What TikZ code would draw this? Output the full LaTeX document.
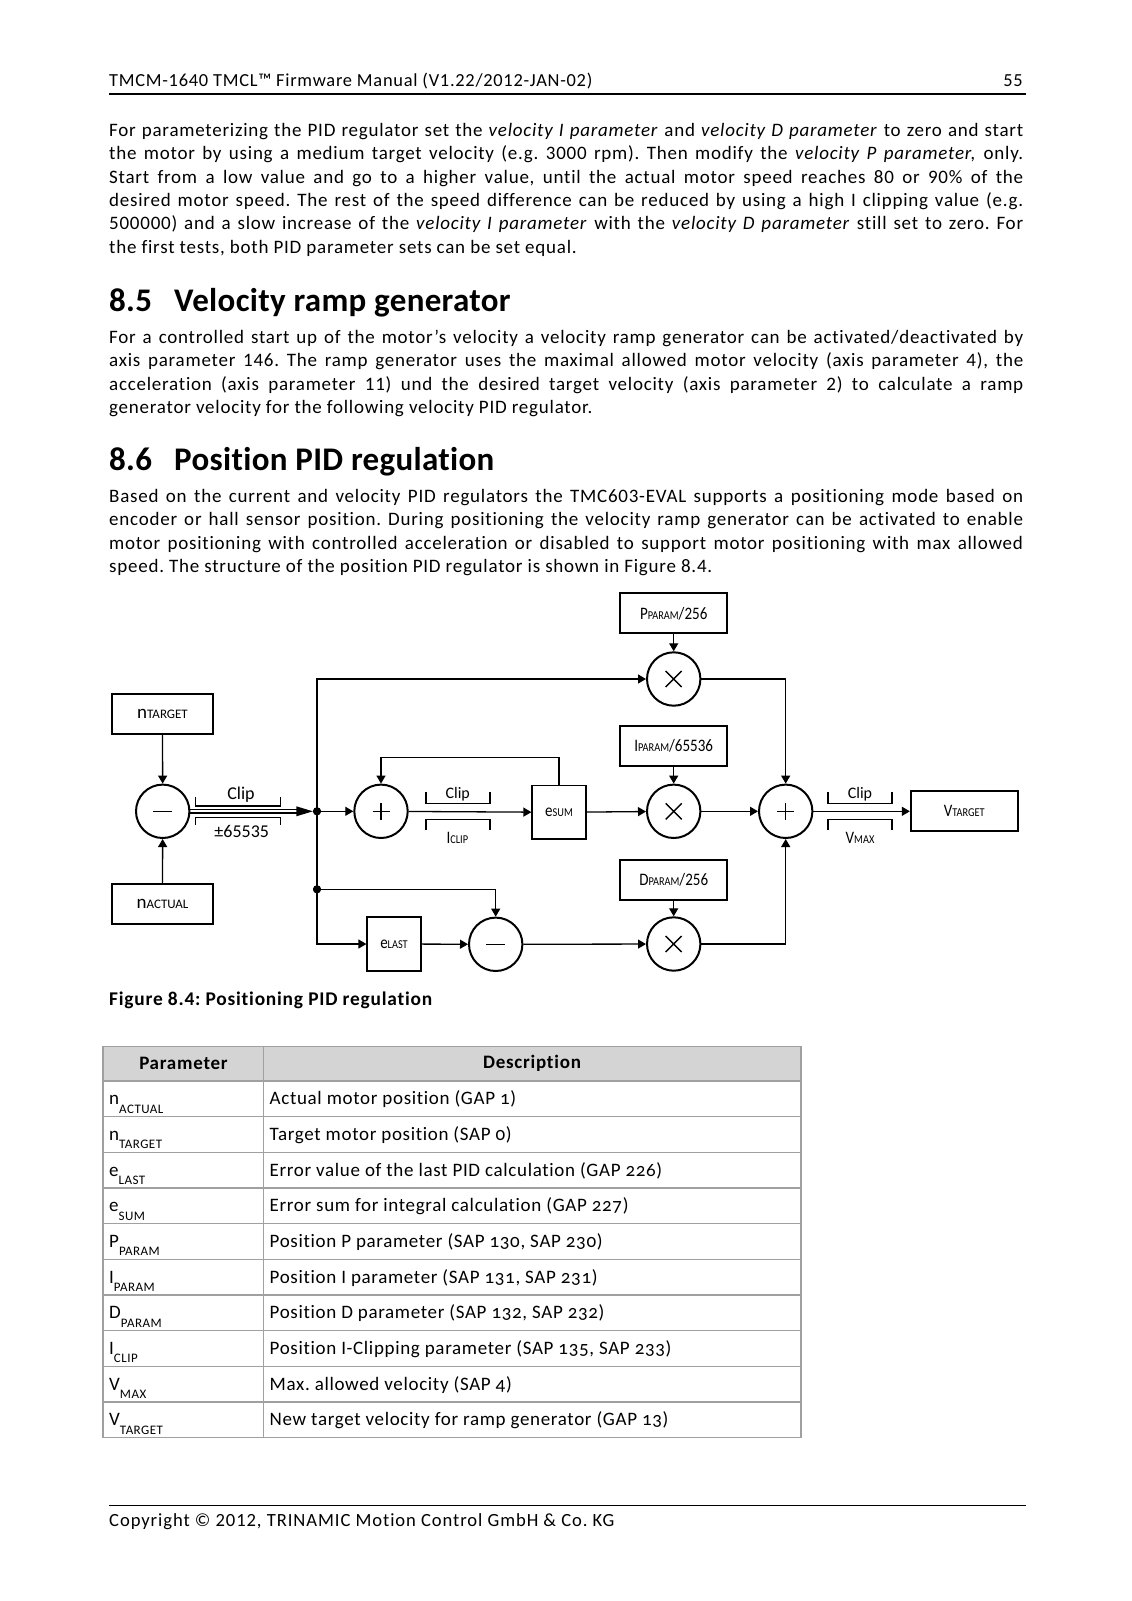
\documentclass[tikz,border=0pt]{standalone}
\usepackage{fontspec}
\setmainfont[Ligatures=NoCommon,LetterSpace=4]{Carlito}
\newfontfamily\tabfont[Ligatures=NoCommon,LetterSpace=3.5,Numbers=OldStyle]{Carlito}
\newfontfamily\lblfont[Ligatures=NoCommon]{Carlito}
\newfontfamily\lblnarrow[Ligatures=NoCommon,FakeStretch=0.86]{Carlito}
\usetikzlibrary{arrows.meta}
\frenchspacing
\newcommand\fs[1]{\fontsize{#1}{#1}\selectfont}
\newcommand\lab[2]{{\lblfont\fs{19}#1\fs{13}#2}}
\newcommand\labn[2]{{\lblnarrow\fs{17.5}#1\fs{12}#2}}
\newcommand\tsub[2]{#1\raisebox{-8.5pt}{\fs{13}#2}}
\newcommand\jl[1]{\makebox[914pt][s]{#1}}
\definecolor{thead}{RGB}{212,212,212}
\definecolor{tline}{RGB}{160,160,160}
\begin{document}
\begin{tikzpicture}[x=1pt,y=-1pt,
  body/.style={anchor=base west, inner sep=0, font=\fs{19}},
  head/.style={anchor=base west, inner sep=0, font=\fs{33}\bfseries\addfontfeature{LetterSpace=1}},
  box/.style={draw, line width=1.7pt, minimum width=101pt, minimum height=40pt, inner sep=0},
  wbox/.style={draw, line width=1.7pt, minimum width=107pt, minimum height=40pt, inner sep=0},
  sq/.style={draw, line width=1.7pt, minimum size=53.5pt, inner sep=0},
  op/.style={circle, draw, line width=2pt, minimum size=53.4pt, inner sep=0},
  opplus/.style={op, path picture={\draw[line width=1.4pt] ([xshift=-8.5pt]path picture bounding box.center) -- ([xshift=8.5pt]path picture bounding box.center) ([yshift=-8.5pt]path picture bounding box.center) -- ([yshift=8.5pt]path picture bounding box.center);}},
  opminus/.style={op, path picture={\draw[line width=1.4pt] ([xshift=-9.5pt]path picture bounding box.center) -- ([xshift=9.5pt]path picture bounding box.center);}},
  optimes/.style={op, path picture={\draw[line width=1.4pt] ([xshift=-8pt,yshift=-8pt]path picture bounding box.center) -- ([xshift=8pt,yshift=8pt]path picture bounding box.center) ([xshift=-8pt,yshift=8pt]path picture bounding box.center) -- ([xshift=8pt,yshift=-8pt]path picture bounding box.center);}},
  dot/.style={circle, fill, minimum size=8pt, inner sep=0},
  wire/.style={line width=1.3pt},
  arr/.style={wire, -{Triangle[length=8pt,width=9pt]}},
  brk/.style={line width=1.2pt},
  lbl/.style={inner sep=0, font=\lblfont\fs{18}},
  tab/.style={anchor=base west, inner sep=0, font=\tabfont\fs{19}},
  tabh/.style={inner sep=0, font=\fs{19}\bfseries},
  tabline/.style={draw=tline, line width=1.3pt}
]
\useasboundingbox (0,0) rectangle (1132,1601);
\fill[white] (0,0) rectangle (1132,1601);

% header / footer
\node[body, font=\fs{18.4}] (hdr) at (109,86) {TMCM-1640 TMCL™ Firmware Manual (V1.22/2012-JAN-02)};
\node[anchor=base east, inner sep=0, font=\fs{18.4}] (pg) at (1023,86) {55};
\draw[line width=1.2pt] (109,94) -- (1026,94);
\draw[line width=1.2pt] (109,1505.5) -- (1026,1505.5);
\node[body, font=\fs{18.6}\addfontfeature{LetterSpace=5}] (ftr) at (109,1526) {Copyright © 2012, TRINAMIC Motion Control GmbH \& Co. KG};

% paragraph 1
\node[body] (a1) at (109,136.3) {\jl{For parameterizing the PID regulator set the \textit{velocity I parameter} and \textit{velocity D parameter} to zero and start}};
\node[body] (a2) at (109,159.7) {\jl{the motor by using a medium target velocity (e.g. 3000 rpm). Then modify the \textit{velocity P parameter,} only.}};
\node[body] (a3) at (109,183.1) {\jl{Start from a low value and go to a higher value, until the actual motor speed reaches 80 or 90\% of the}};
\node[body] (a4) at (109,206.5) {\jl{desired motor speed. The rest of the speed difference can be reduced by using a high I clipping value (e.g.}};
\node[body] (a5) at (109,229.9) {\jl{500000) and a slow increase of the \textit{velocity I parameter} with the \textit{velocity D parameter} still set to zero. For}};
\node[body] (a6) at (109,253.3) {the first tests, both PID parameter sets can be set equal.};

% 8.5
\node[head] (h1n) at (109,311.7) {8.5};
\node[head] (h1t) at (174,311.7) {Velocity ramp generator};
\node[body] (b1) at (109,343.3) {\jl{For a controlled start up of the motor's velocity a velocity ramp generator can be activated/deactivated by}};
\node[body] (b2) at (109,366.7) {\jl{axis parameter 146. The ramp generator uses the maximal allowed motor velocity (axis parameter 4), the}};
\node[body] (b3) at (109,390.1) {\jl{acceleration (axis parameter 11) und the desired target velocity (axis parameter 2) to calculate a ramp}};
\node[body] (b4) at (109,413.5) {generator velocity for the following velocity PID regulator.};

% 8.6
\node[head] (h2n) at (109,470.9) {8.6};
\node[head] (h2t) at (174,470.9) {Position PID regulation};
\node[body] (c1) at (109,502.5) {\jl{Based on the current and velocity PID regulators the TMC603-EVAL supports a positioning mode based on}};
\node[body] (c2) at (109,525.9) {\jl{encoder or hall sensor position. During positioning the velocity ramp generator can be activated to enable}};
\node[body] (c3) at (109,549.3) {\jl{motor positioning with controlled acceleration or disabled to support motor positioning with max allowed}};
\node[body] (c4) at (109,572.7) {speed. The structure of the position PID regulator is shown in Figure 8.4.};

% ---------- diagram ----------
\node[box] (ntarget) at (162.5,713.8) {\lab{n}{TARGET}};
\node[box] (nactual) at (162.5,904.2) {\lab{n}{ACTUAL}};
\node[opminus] (sub1) at (162.7,811.3) {};
\node[dot] (j1) at (317,811.3) {};
\node[dot] (j2) at (317,889.3) {};
\node[opplus] (plus1) at (381,811.3) {};
\node[sq] (esum) at (559,812.3) {\labn{e}{SUM}};
\node[sq] (elast) at (394,944) {\labn{e}{LAST}};
\node[opminus] (sub2) at (495.7,944.3) {};
\node[wbox] (pbox) at (673.7,613.3) {\labn{P}{PARAM}{\lblnarrow\fs{17.5}/256}};
\node[optimes] (pmul) at (673.7,679) {};
\node[wbox] (ibox) at (673.7,746) {\labn{I}{PARAM}{\lblnarrow\fs{17.5}/65536}};
\node[optimes] (imul) at (673.7,811.3) {};
\node[wbox] (dbox) at (673.7,880) {\labn{D}{PARAM}{\lblnarrow\fs{17.5}/256}};
\node[optimes] (dmul) at (673.7,944) {};
\node[opplus] (plus2) at (785.7,811.3) {};
\node[wbox] (vtarget) at (964.2,811.3) {\labn{V}{TARGET}};

\draw[arr] (ntarget) -- (sub1);
\draw[arr] (nactual) -- (sub1);
\draw[line width=1.2pt] ([yshift=1.7pt]sub1.east) -- ([yshift=1.7pt,xshift=-16pt]j1.west);
\draw[line width=1.2pt] ([yshift=-1.7pt]sub1.east) -- ([yshift=-1.7pt,xshift=-16pt]j1.west);
\fill ([xshift=-16.5pt,yshift=5pt]j1.west) -- (j1.west) -- ([xshift=-16.5pt,yshift=-5pt]j1.west) -- cycle;
\draw[arr] (j1) -- (plus1);
\draw[arr] (j1.center) |- (pmul);
\draw[arr] (j1.center) |- (elast);
\draw[arr] (j2.center) -| (sub2);
\draw[arr] (plus1) -- (esum);
\draw[arr] (esum.north) -- ++(0,-27.4) -| (plus1);
\draw[arr] (elast) -- (sub2);
\draw[arr] (sub2) -- (dmul);
\draw[arr] (esum) -- (imul);
\draw[arr] (pbox) -- (pmul);
\draw[arr] (ibox) -- (imul);
\draw[arr] (dbox) -- (dmul);
\draw[arr] (pmul) -| (plus2);
\draw[arr] (imul) -- (plus2);
\draw[arr] (dmul) -| (plus2);
\draw[arr] (plus2) -- (vtarget);
\node[dot] at (j1) {};
\node[dot] at (j2) {};

% clip brackets
\draw[brk] (195.7,796.7) -- (195.7,806) -- (280.7,806) -- (280.7,796.7);
\draw[brk] (195.7,825) -- (195.7,817.3) -- (280.7,817.3) -- (280.7,825);
\node[lbl] (clip1) at (241,795) {Clip};
\node[lbl] (lim1) at (241.7,831) {±65535};
\draw[brk] (426,792.3) -- (426,803.3) -- (490,803.3) -- (490,792.3);
\draw[brk] (426,830) -- (426,819.7) -- (490,819.7) -- (490,830);
\node[lbl, font=\lblfont\fs{16}] (clip2) at (457.7,794) {Clip};
\node[lbl] (lim2) at (457.3,838.3) {\labn{I}{CLIP}};
\draw[brk] (828,792.3) -- (828,803.3) -- (892,803.3) -- (892,792.3);
\draw[brk] (828,830) -- (828,819.7) -- (892,819.7) -- (892,830);
\node[lbl, font=\lblfont\fs{16}] (clip3) at (860,794) {Clip};
\node[lbl] (lim3) at (860,838.3) {\labn{V}{MAX}};

% caption
\node[body, font=\fs{19.4}\bfseries\addfontfeature{LetterSpace=4}] (cap) at (109,1005) {Figure 8.4: Positioning PID regulation};

% ---------- table ----------
\fill[thead] (103,1046.5) rectangle (801,1081);
\draw[tabline] (103,1046.5) rectangle (801,1437.5);
\draw[tabline] (263.3,1046.5) -- (263.3,1437.5);
\foreach \k in {0,...,8} \draw[tabline] (103,1081+\k*35.65) -- (801,1081+\k*35.65);
\draw[tabline] (103,1401.85) -- (801,1401.85);
\node[tabh] (th1) at (183.5,1063.5) {Parameter};
\node[tabh] (th2) at (532,1063.5) {Description};
\node[tab] (r1a) at (109,1104.8) {\tsub{n}{ACTUAL}};
\node[tab] (r1b) at (269.5,1104.8) {Actual motor position (GAP 1)};
\node[tab] (r2a) at (109,1140.45) {\tsub{n}{TARGET}};
\node[tab] (r2b) at (269.5,1140.45) {Target motor position (SAP 0)};
\node[tab] (r3a) at (109,1176.1) {\tsub{e}{LAST}};
\node[tab] (r3b) at (269.5,1176.1) {Error value of the last PID calculation (GAP 226)};
\node[tab] (r4a) at (109,1211.75) {\tsub{e}{SUM}};
\node[tab] (r4b) at (269.5,1211.75) {Error sum for integral calculation (GAP 227)};
\node[tab] (r5a) at (109,1247.4) {\tsub{P}{PARAM}};
\node[tab] (r5b) at (269.5,1247.4) {Position P parameter (SAP 130, SAP 230)};
\node[tab] (r6a) at (109,1283.05) {\tsub{I}{PARAM}};
\node[tab] (r6b) at (269.5,1283.05) {Position I parameter (SAP 131, SAP 231)};
\node[tab] (r7a) at (109,1318.7) {\tsub{D}{PARAM}};
\node[tab] (r7b) at (269.5,1318.7) {Position D parameter (SAP 132, SAP 232)};
\node[tab] (r8a) at (109,1354.35) {\tsub{I}{CLIP}};
\node[tab] (r8b) at (269.5,1354.35) {Position I-Clipping parameter (SAP 135, SAP 233)};
\node[tab] (r9a) at (109,1390) {\tsub{V}{MAX}};
\node[tab] (r9b) at (269.5,1390) {Max. allowed velocity (SAP 4)};
\node[tab] (r10a) at (109,1425.65) {\tsub{V}{TARGET}};
\node[tab] (r10b) at (269.5,1425.65) {New target velocity for ramp generator (GAP 13)};
\end{tikzpicture}
\end{document}
